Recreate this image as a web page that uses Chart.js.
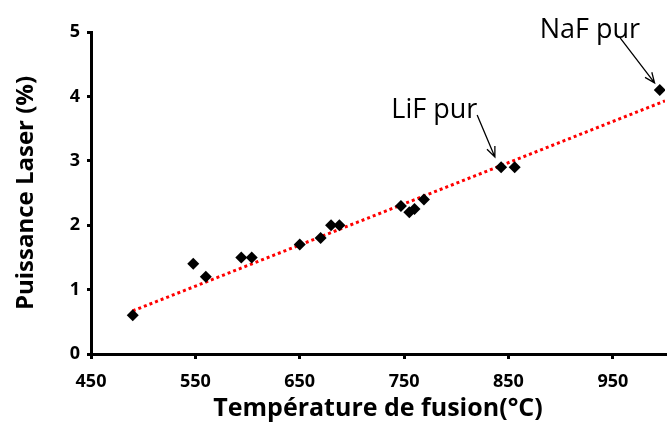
<!DOCTYPE html>
<html>
<head>
<meta charset="utf-8">
<script src="https://cdn.jsdelivr.net/npm/chart.js@4.4.1/dist/chart.umd.min.js"></script>
<style>
  html, body { margin: 0; padding: 0; background: #fff; }
  #chart { display: block; }
</style>
</head>
<body>
<canvas id="chart" width="671" height="428"></canvas>
<script>
  // données
  const temperatures = [490, 548, 560, 594, 604, 650, 670, 680, 688, 747, 755, 760, 769, 843, 856, 995];
  const puissances = [0.6, 1.4, 1.2, 1.5, 1.5, 1.7, 1.8, 2.0, 2.0, 2.3, 2.2, 2.25, 2.4, 2.9, 2.9, 4.1];

  // courbe de tendance (extrémités lues)
  const trendX = [490, 1000];
  const trendY = [0.67, 3.93];

  // graduations
  const xTickValues = [450, 550, 650, 750, 850, 950];
  const yTickValues = [0, 1, 2, 3, 4, 5];

  // annotations
  const noteLabels = ['LiF pur', 'NaF pur'];
  const noteTextX = [779, 928];
  const noteTextY = [3.79, 5.02];
  const arrowTailX = [820, 957];
  const arrowTailY = [3.71, 4.91];
  const arrowHeadX = [837, 990];
  const arrowHeadY = [3.06, 4.21];

  const xTitle = 'Température de fusion(°C)';
  const yTitle = 'Puissance Laser (%)';

  const fontFamily = "'Open Sans', sans-serif";

  const scatterPoints = temperatures.map((t, i) => ({ x: t, y: puissances[i] }));
  const trendPoints = trendX.map((t, i) => ({ x: t, y: trendY[i] }));

  // flèches et textes
  const annotationPlugin = {
    id: 'annotations',
    afterDatasetsDraw(chart) {
      const ctx = chart.ctx;
      const xs = chart.scales.x;
      const ys = chart.scales.y;
      ctx.save();
      ctx.fillStyle = '#000';
      ctx.strokeStyle = '#000';
      ctx.lineWidth = 1.3;
      ctx.font = "27px " + fontFamily;
      ctx.textAlign = 'center';
      ctx.textBaseline = 'middle';
      for (let i = 0; i < noteLabels.length; i++) {
        ctx.fillText(noteLabels[i], xs.getPixelForValue(noteTextX[i]), ys.getPixelForValue(noteTextY[i]));

        const x0 = xs.getPixelForValue(arrowTailX[i]);
        const y0 = ys.getPixelForValue(arrowTailY[i]);
        const x1 = xs.getPixelForValue(arrowHeadX[i]);
        const y1 = ys.getPixelForValue(arrowHeadY[i]);
        ctx.beginPath();
        ctx.moveTo(x0, y0);
        ctx.lineTo(x1, y1);
        const ang = Math.atan2(y1 - y0, x1 - x0);
        const len = 11;
        ctx.moveTo(x1 - len * Math.cos(ang - 0.4), y1 - len * Math.sin(ang - 0.4));
        ctx.lineTo(x1, y1);
        ctx.lineTo(x1 - len * Math.cos(ang + 0.4), y1 - len * Math.sin(ang + 0.4));
        ctx.stroke();
      }
      ctx.restore();
    }
  };

  new Chart(document.getElementById('chart').getContext('2d'), {
    type: 'scatter',
    data: {
      datasets: [
        {
          label: 'Tendance',
          type: 'line',
          data: trendPoints,
          borderColor: '#ff0000',
          borderWidth: 3,
          borderDash: [3, 3],
          pointRadius: 0,
          fill: false,
          order: 2
        },
        {
          label: 'Mesures',
          data: scatterPoints,
          pointStyle: 'rectRot',
          pointRadius: 6,
          pointHoverRadius: 6,
          backgroundColor: '#000',
          borderColor: '#000',
          borderWidth: 0,
          order: 1
        }
      ]
    },
    options: {
      responsive: false,
      animation: false,
      layout: { padding: { top: 32, right: 0, left: 0, bottom: 0 } },
      plugins: {
        legend: { display: false },
        tooltip: { enabled: false }
      },
      scales: {
        x: {
          type: 'linear',
          min: 450,
          max: 1000,
          afterBuildTicks(scale) {
            scale.ticks = xTickValues.map(v => ({ value: v }));
          },
          afterFit(scale) { scale.height = 74; },
          ticks: {
            color: '#000',
            padding: 12,
            maxRotation: 0,
            autoSkip: false,
            font: { family: fontFamily, size: 18, weight: 'bold' }
          },
          grid: {
            drawOnChartArea: false,
            drawTicks: true,
            tickLength: 5,
            color: '#000',
            lineWidth: 3
          },
          border: { color: '#000', width: 3 },
          title: {
            display: true,
            text: xTitle,
            color: '#000',
            padding: { top: 0, bottom: 4 },
            font: { family: fontFamily, size: 25, weight: 'bold' }
          }
        },
        y: {
          min: 0,
          max: 5,
          afterBuildTicks(scale) {
            scale.ticks = yTickValues.map(v => ({ value: v }));
          },
          afterFit(scale) { scale.width = 91; },
          ticks: {
            color: '#000',
            padding: 7,
            font: { family: fontFamily, size: 18, weight: 'bold' }
          },
          grid: {
            drawOnChartArea: false,
            drawTicks: true,
            tickLength: 4,
            color: '#000',
            lineWidth: 3
          },
          border: { color: '#000', width: 3 },
          title: {
            display: true,
            text: yTitle,
            color: '#000',
            padding: { top: 12, bottom: 0 },
            font: { family: fontFamily, size: 24, weight: 'bold' }
          }
        }
      }
    },
    plugins: [annotationPlugin]
  });
</script>
</body>
</html>
